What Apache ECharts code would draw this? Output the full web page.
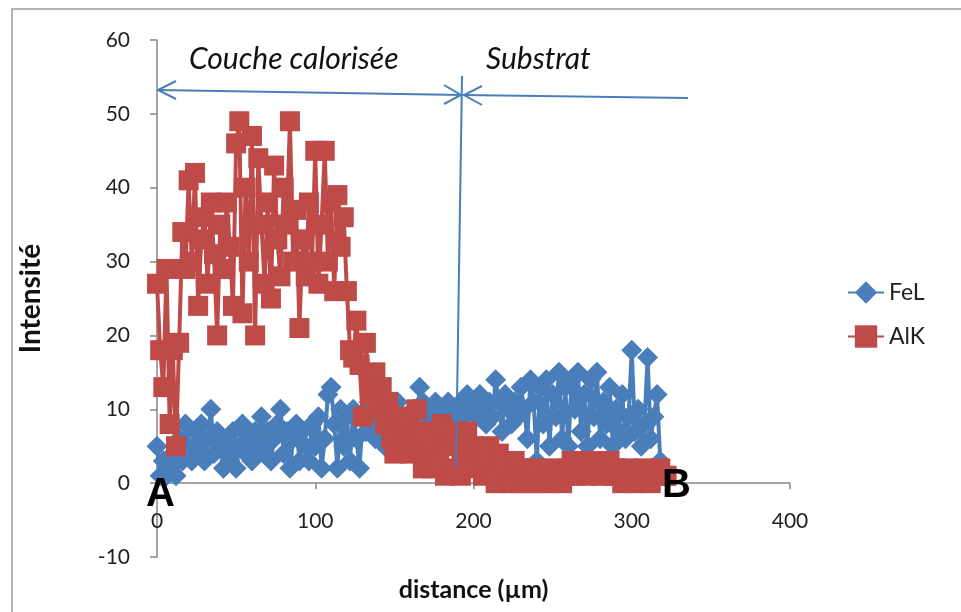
<!DOCTYPE html>
<html>
<head>
<meta charset="utf-8">
<script src="https://cdn.jsdelivr.net/npm/echarts@6/dist/echarts.min.js"></script>
<style>
html,body{margin:0;padding:0;background:#fff;}
#c{width:961px;height:612px;}
</style>
</head>
<body>
<div id="c"></div>
<script>
// distance (µm) sampling positions
const feX = [0,2,4,6,8,10,12,14,16,18,20,22,24,26,28,30,32,34,36,38,40,42,44,46,48,50,52,54,56,58,60,62,64,66,68,70,72,74,76,78,80,82,84,86,88,90,92,94,96,98,100,102,104,106,108,110,112,114,116,118,120,122,124,126,128,130,132,134,136,138,140,142,144,146,148,150,152,154,156,158,160,162,164,166,168,170,172,174,176,178,180,182,184,186,188,190,192,194,196,198,200,202,204,206,208,210,212,214,216,218,220,222,224,226,228,230,232,234,236,238,240,242,244,246,248,250,252,254,256,258,260,262,264,266,268,270,272,274,276,278,280,282,284,286,288,290,292,294,296,298,300,302,304,306,308,310,312,314,316,318];
const feL = [5,1,3,1,2,4,1,6,3,8,5,3,7,4,8,3,6,10,4,7,5,2,6,3,7,2,5,8,4,6,3,7,5,9,4,7,3,6,8,10,4,7,2,6,8,3,7,5,3,8,5,9,2,6,12,13,8,2,10,5,9,3,10,6,2,9,7,11,8,6,10,7,5,9,6,8,11,7,9,6,8,10,7,13,11,9,10,8,11,9,10,8,11,9,10,8,11,9,12,10,11,9,12,10,8,11,9,14,11,7,12,10,8,11,9,13,10,6,14,11,3,13,8,14,5,12,9,15,6,13,5,14,10,15,7,12,5,14,9,15,6,11,8,13,5,10,7,12,6,9,18,7,10,5,8,17,6,9,12,3];
const alX = [0,2,4,6,8,10,12,14,16,18,20,22,24,26,28,30,32,34,36,38,40,42,44,46,48,50,52,54,56,58,60,62,64,66,68,70,72,74,76,78,80,82,84,86,88,90,92,94,96,98,100,102,104,106,108,110,112,114,116,118,120,122,124,126,128,130,132,134,136,138,140,142,144,146,148,150,152,154,156,158,160,162,164,166,168,170,172,174,176,178,180,182,184,186,188,190,192,194,196,198,200,202,204,206,208,210,212,214,216,218,220,222,224,226,228,230,232,234,236,238,240,242,244,246,248,250,252,254,256,258,260,262,264,266,268,270,272,274,276,278,280,282,284,286,288,290,292,294,296,298,300,302,304,306,308,310,312,314,316,318,320,322];
const alK = [27,18,13,29,8,18,5,19,34,29,41,30,42,24,33,36,27,38,31,20,35,29,38,32,24,46,49,23,40,30,47,20,44,35,27,38,25,43,33,28,40,35,49,30,37,21,33,28,38,30,45,27,35,45,30,38,26,39,32,36,26,18,17,22,16,9,19,14,12,15,10,13,8,11,6,4,9,7,5,8,4,6,10,5,2,7,4,2,6,3,8,1,5,7,2,6,1,4,7,3,5,2,4,1,3,5,2,0,4,2,3,1,0,3,2,0,1,2,0,1,2,0,1,1,0,1,2,1,0,1,2,3,1,3,2,3,1,3,2,3,1,3,2,3,1,2,1,0,1,2,1,0,1,1,2,1,0,1,1,2,1,1];
const xTicks = [0,100,200,300,400];
const yTicks = [-10,0,10,20,30,40,50,60];
const seriesNames = ['FeL','AlK'];

const BLUE = '#4a7ebb', RED = '#be4b48';
const FONT = 'Lato, "Open Sans", sans-serif';

const chart = echarts.init(document.getElementById('c'), null, {renderer:'canvas'});
const zip = (xs, ys) => xs.map((x,i)=>[x, ys[i]]);

chart.setOption({
  animation:false,
  backgroundColor:'#fff',
  grid:{left:157, right:171, top:40, bottom:55, containLabel:false, outerBoundsMode:'none'},
  xAxis:{
    type:'value', min:xTicks[0], max:xTicks[xTicks.length-1], interval:100,
    axisLine:{onZero:true, lineStyle:{color:'#868686', width:1.5}},
    axisTick:{show:true, length:6, lineStyle:{color:'#868686', width:1.5}},
    axisLabel:{margin:-46, fontSize:21, color:'#222', fontFamily:FONT},
    splitLine:{show:false},
    name:'distance (µm)', nameLocation:'middle', nameGap:20,
    nameTextStyle:{fontSize:25, fontWeight:'bold', color:'#111', fontFamily:FONT}
  },
  yAxis:{
    type:'value', min:yTicks[0], max:yTicks[yTicks.length-1], interval:10,
    axisLine:{show:true, onZero:false, lineStyle:{color:'#868686', width:1.5}},
    axisTick:{show:true, length:7, lineStyle:{color:'#868686', width:1.5}},
    axisLabel:{margin:27, fontSize:21, color:'#222', fontFamily:FONT},
    splitLine:{show:false},
    name:'Intensité', nameLocation:'middle', nameGap:112, nameRotate:90,
    nameTextStyle:{fontSize:28, fontWeight:'bold', color:'#111', fontFamily:FONT}
  },
  legend:{
    orient:'vertical', left:842, top:276, itemGap:21, itemWidth:36, itemHeight:28,
    textStyle:{fontSize:23, color:'#222', fontFamily:FONT},
    data:seriesNames
  },
  series:[
    {name:seriesNames[0], type:'line', data:zip(feX, feL), symbol:'diamond', symbolSize:21,
     showAllSymbol:true, z:2,
     lineStyle:{color:BLUE, width:4}, itemStyle:{color:BLUE}},
    {name:seriesNames[1], type:'line', data:zip(alX, alK), symbol:'rect', symbolSize:20,
     showAllSymbol:true, z:3,
     lineStyle:{color:RED, width:4}, itemStyle:{color:RED}}
  ],
  graphic:[
    {type:'rect', shape:{x:12, y:9, width:960, height:620}, style:{fill:null, stroke:'#9a9a9a', lineWidth:1.5}, z:-1},
    {type:'text', left:189, top:44, style:{text:'Couche calorisée', fill:'#111', font:'italic 30px Lato, "Open Sans", sans-serif'}},
    {type:'text', left:486, top:44, style:{text:'Substrat', fill:'#111', font:'italic 30px Lato, "Open Sans", sans-serif'}},
    {type:'line', shape:{x1:157, y1:90, x2:462, y2:95}, style:{stroke:BLUE, lineWidth:2}},
    {type:'polyline', shape:{points:[[176,81],[158,90],[176,99]]}, style:{stroke:BLUE, lineWidth:2, fill:null}},
    {type:'polyline', shape:{points:[[444,85],[461,95],[444,104]]}, style:{stroke:BLUE, lineWidth:2, fill:null}},
    {type:'line', shape:{x1:463, y1:95, x2:688, y2:98}, style:{stroke:BLUE, lineWidth:2}},
    {type:'polyline', shape:{points:[[482,86],[464,95],[482,105]]}, style:{stroke:BLUE, lineWidth:2, fill:null}},
    {type:'line', shape:{x1:462, y1:76, x2:456, y2:466}, style:{stroke:BLUE, lineWidth:2}, z:10},
    {type:'text', left:146, top:475, z:20, style:{text:'A', fill:'#000', font:'bold 40px "Liberation Sans", Arial, sans-serif'}},
    {type:'text', left:662, top:466, z:20, style:{text:'B', fill:'#000', font:'bold 40px "Liberation Sans", Arial, sans-serif'}}
  ]
});
</script>
</body>
</html>
